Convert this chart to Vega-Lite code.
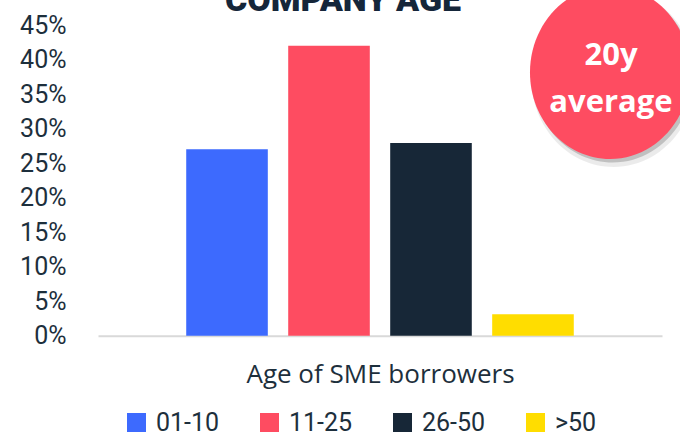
{
  "$schema": "https://vega.github.io/schema/vega-lite/v6.json",
  "width": 564,
  "height": 310.7,
  "autosize": {"type": "none"},
  "padding": {"left": 98, "top": 25, "right": 18, "bottom": 99.3},
  "background": "#ffffff",
  "config": {
    "view": {"stroke": null},
    "font": "Open Sans"
  },
  "title": {
    "text": "COMPANY AGE",
    "font": "Roboto",
    "fontWeight": 900,
    "fontSize": 34,
    "color": "#15263a",
    "anchor": "middle",
    "baseline": "alphabetic",
    "offset": 0,
    "dy": 59,
    "dx": -37
  },
  "layer": [
    {
      "data": {
        "values": [
          {"age": "01-10", "share": 0.27},
          {"age": "11-25", "share": 0.42},
          {"age": "26-50", "share": 0.279},
          {"age": ">50", "share": 0.031}
        ]
      },
      "mark": {"type": "bar"},
      "encoding": {
        "x": {
          "field": "age",
          "type": "nominal",
          "sort": null,
          "scale": {"paddingInner": 0.2, "paddingOuter": 0.865},
          "axis": {
            "title": "Age of SME borrowers",
            "titleFont": "Open Sans",
            "titleFontSize": 26,
            "titleFontWeight": "normal",
            "titleColor": "#1d2f3c",
            "titlePadding": 26,
            "labels": false,
            "ticks": false,
            "domainColor": "#d9d9d9",
            "domainWidth": 2
          }
        },
        "y": {
          "field": "share",
          "type": "quantitative",
          "scale": {"domain": [0, 0.45], "nice": false},
          "axis": {
            "title": null,
            "values": [0, 0.05, 0.1, 0.15, 0.2, 0.25, 0.3, 0.35, 0.4, 0.45],
            "format": ".0%",
            "labelFont": "Roboto",
            "labelFontSize": 25,
            "labelColor": "#1d2f3c",
            "labelPadding": 32,
            "labelOverlap": false,
            "labelFlush": false,
            "ticks": false,
            "domain": false,
            "grid": false
          }
        },
        "color": {
          "field": "age",
          "type": "nominal",
          "sort": null,
          "scale": {
            "domain": ["01-10", "11-25", "26-50", ">50"],
            "range": ["#3d6afe", "#fe4c61", "#172737", "#ffdd00"]
          },
          "legend": {
            "title": null,
            "orient": "none",
            "legendX": 26,
            "legendY": 385,
            "direction": "horizontal",
            "gridAlign": "none",
            "symbolType": "square",
            "symbolSize": 361,
            "symbolStrokeWidth": 0,
            "labelFont": "Roboto",
            "labelFontSize": 25,
            "labelColor": "#1d2f3c",
            "labelOffset": 7,
            "columnPadding": 37
          }
        }
      }
    },
    {
      "data": {"values": [{"note": "20y\naverage"}]},
      "layer": [
        {
          "mark": {
            "type": "point",
            "filled": true,
            "shape": "M -0.925 0 A 0.925 1 0 1 0 0.925 0 A 0.925 1 0 1 0 -0.925 0 Z",
            "size": 31500,
            "color": "#000000",
            "opacity": 0.08
          },
          "encoding": {
            "x": {"datum": 0.914, "type": "quantitative", "scale": {"domain": [0, 1], "nice": false}, "axis": null},
            "y": {"datum": 0.373, "type": "quantitative", "scale": {"domain": [0, 0.45], "nice": false}, "axis": null}
          }
        },
        {
          "mark": {
            "type": "point",
            "filled": true,
            "shape": "M -0.925 0 A 0.925 1 0 1 0 0.925 0 A 0.925 1 0 1 0 -0.925 0 Z",
            "size": 29929,
            "color": "#000000",
            "opacity": 0.18
          },
          "encoding": {
            "x": {"datum": 0.9125, "type": "quantitative", "scale": {"domain": [0, 1], "nice": false}, "axis": null},
            "y": {"datum": 0.376, "type": "quantitative", "scale": {"domain": [0, 0.45], "nice": false}, "axis": null}
          }
        },
        {
          "mark": {
            "type": "point",
            "filled": true,
            "shape": "M -0.925 0 A 0.925 1 0 1 0 0.925 0 A 0.925 1 0 1 0 -0.925 0 Z",
            "size": 29929,
            "color": "#fe4c61",
            "opacity": 1
          },
          "encoding": {
            "x": {"datum": 0.9078, "type": "quantitative", "scale": {"domain": [0, 1], "nice": false}, "axis": null},
            "y": {"datum": 0.3812, "type": "quantitative", "scale": {"domain": [0, 0.45], "nice": false}, "axis": null}
          }
        },
        {
          "mark": {
            "type": "text",
            "font": "Open Sans",
            "fontWeight": "bold",
            "fontSize": 31,
            "color": "#ffffff",
            "align": "center",
            "baseline": "alphabetic",
            "lineBreak": "\n",
            "lineHeight": 47
          },
          "encoding": {
            "x": {"datum": 0.9096, "type": "quantitative", "scale": {"domain": [0, 1], "nice": false}, "axis": null},
            "y": {"datum": 0.392, "type": "quantitative", "scale": {"domain": [0, 0.45], "nice": false}, "axis": null},
            "text": {"field": "note", "type": "nominal"}
          }
        }
      ]
    }
  ],
  "resolve": {"scale": {"x": "independent"}, "axis": {"x": "independent", "y": "independent"}}
}
